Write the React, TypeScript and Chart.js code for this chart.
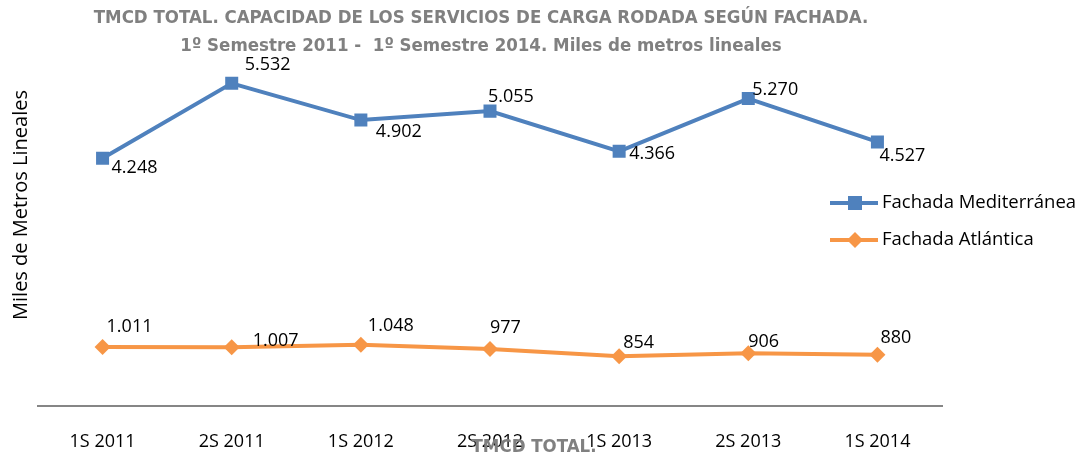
import React, { useEffect, useRef } from "react";
import { Chart, registerables } from "chart.js";
Chart.register(...registerables);

const categories = ["1S 2011", "2S 2011", "1S 2012", "2S 2012", "1S 2013", "2S 2013", "1S 2014"];
const mediterranea = [4248, 5532, 4902, 5055, 4366, 5270, 4527];
const atlantica = [1011, 1007, 1048, 977, 854, 906, 880];
const seriesNames = ["Fachada Mediterránea", "Fachada Atlántica"];
const titleLines = [
  "TMCD TOTAL. CAPACIDAD DE LOS SERVICIOS DE CARGA RODADA SEGÚN FACHADA.",
  "1º Semestre 2011 -  1º Semestre 2014. Miles de metros lineales",
];
const yTitle = "Miles de Metros Lineales";
const xTitle = "TMCD TOTAL.";

// label offsets (dx, dy) relative to each point
const medLabelOffsets = [[9, 10], [13, -18], [15, 12], [-2, -14], [10, 3], [4, -9], [2, 14]];
const atlLabelOffsets = [[4, -20], [21, -6], [7, -19], [0, -21], [4, -13], [0, -11], [3, -17]];

const BLUE = "#4F81BD";
const ORANGE = "#F79646";
const GRAY = "#808080";
const FONT = "'Open Sans', 'Noto Sans', sans-serif";
const NARROW = "'Liberation Sans Narrow', 'DejaVu Sans Condensed', sans-serif";

const fmt = (n: number) => String(n).replace(/\B(?=(\d{3})+(?!\d))/g, ".");

const decorPlugin = {
  id: "decor",
  afterDraw(chart: any) {
    const ctx = chart.ctx;
    ctx.save();
    // title
    ctx.fillStyle = GRAY;
    ctx.textAlign = "center";
    ctx.textBaseline = "middle";
    ctx.font = `bold 18.5px ${NARROW}`;
    ctx.fillText(titleLines[0], 481, 18);
    ctx.fillText(titleLines[1], 481, 46);

    // data labels
    ctx.fillStyle = "#000";
    ctx.textAlign = "left";
    ctx.font = `18px ${FONT}`;
    const offs = [medLabelOffsets, atlLabelOffsets];
    chart.data.datasets.forEach((ds: any, di: number) => {
      const meta = chart.getDatasetMeta(di);
      meta.data.forEach((pt: any, i: number) => {
        const [dx, dy] = offs[di][i];
        ctx.fillText(fmt(ds.data[i]), pt.x + dx, pt.y + dy);
      });
    });

    // y title
    ctx.save();
    ctx.translate(21, 205);
    ctx.rotate(-Math.PI / 2);
    ctx.textAlign = "center";
    ctx.font = `20px ${FONT}`;
    ctx.fillText(yTitle, 0, 0);
    ctx.restore();

    // x title
    ctx.fillStyle = GRAY;
    ctx.textAlign = "center";
    ctx.font = `bold 18.5px ${NARROW}`;
    ctx.fillText(xTitle, 534, 447);

    // legend
    const legendY = [203, 240];
    const colors = [BLUE, ORANGE];
    const styles = ["rect", "rectRot"];
    legendY.forEach((ly, i) => {
      ctx.strokeStyle = colors[i];
      ctx.lineWidth = 4;
      ctx.beginPath();
      ctx.moveTo(830, ly);
      ctx.lineTo(878, ly);
      ctx.stroke();
      ctx.fillStyle = colors[i];
      ctx.beginPath();
      if (styles[i] === "rect") {
        ctx.fillRect(848, ly - 7, 14, 14);
      } else {
        ctx.moveTo(855, ly - 8);
        ctx.lineTo(863, ly);
        ctx.lineTo(855, ly + 8);
        ctx.lineTo(847, ly);
        ctx.closePath();
        ctx.fill();
      }
      ctx.fillStyle = "#000";
      ctx.textAlign = "left";
      ctx.font = `18.5px ${FONT}`;
      ctx.fillText(seriesNames[i], 882, ly);
    });
    ctx.restore();
  },
};

export default function App() {
  const ref = useRef<HTMLCanvasElement>(null);
  useEffect(() => {
    if (!ref.current) return;
    const chart = new Chart(ref.current, {
      type: "line",
      data: {
        labels: categories,
        datasets: [
          {
            label: seriesNames[0],
            data: mediterranea,
            borderColor: BLUE,
            backgroundColor: BLUE,
            borderWidth: 4,
            pointStyle: "rect",
            pointRadius: 9.2,
            pointHoverRadius: 9.2,
            pointBorderWidth: 0,
            tension: 0,
          },
          {
            label: seriesNames[1],
            data: atlantica,
            borderColor: ORANGE,
            backgroundColor: ORANGE,
            borderWidth: 4,
            pointStyle: "rectRot",
            pointRadius: 8,
            pointHoverRadius: 8,
            pointBorderWidth: 0,
            tension: 0,
          },
        ],
      },
      options: {
        animation: false,
        responsive: false,
        maintainAspectRatio: false,
        layout: { padding: { left: 38, right: 146, top: 56, bottom: 0 } },
        plugins: { legend: { display: false }, title: { display: false }, tooltip: { enabled: false } },
        scales: {
          x: {
            offset: true,
            grid: { display: false, drawTicks: false },
            border: { display: true, color: "#868686", width: 2 },
            ticks: { color: "#000", font: { family: FONT, size: 18 }, padding: 25, maxRotation: 0, autoSkip: false },
            afterFit: (scale: any) => {
              scale.height = 49;
            },
          },
          y: {
            display: false,
            min: 0,
            max: 6000,
          },
        },
      },
      plugins: [decorPlugin],
    });
    return () => chart.destroy();
  }, []);
  return (
    <div style={{ position: "absolute", left: 0, top: 0, width: 1088, height: 455, background: "#fff" }}>
      <canvas ref={ref} width={1088} height={455} />
    </div>
  );
}
